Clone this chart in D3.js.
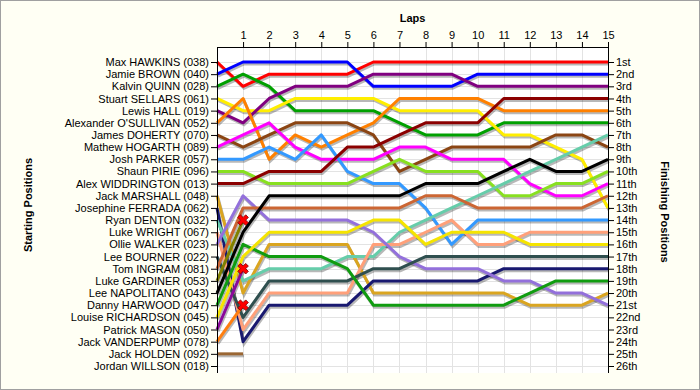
<!DOCTYPE html>
<html>
<head>
<meta charset="utf-8">
<script src="https://cdn.jsdelivr.net/npm/d3@7"></script>
<style>
  body { margin: 0; background: #fffff4; }
  svg { display: block; }
  text { font-family: "Liberation Sans", Arial, sans-serif; }
</style>
</head>
<body>
<div id="chart"></div>
<script>
// drivers in starting order
var drivers = [
  "Max HAWKINS (038)", "Jamie BROWN (040)", "Kalvin QUINN (028)", "Stuart SELLARS (061)",
  "Lewis HALL (019)", "Alexander O'SULLIVAN (052)", "James DOHERTY (070)", "Mathew HOGARTH (089)",
  "Josh PARKER (057)", "Shaun PIRIE (096)", "Alex WIDDRINGTON (013)", "Jack MARSHALL (048)",
  "Josephine FERRADA (062)", "Ryan DENTON (032)", "Luke WRIGHT (067)", "Ollie WALKER (023)",
  "Lee BOURNER (022)", "Tom INGRAM (081)", "Luke GARDINER (053)", "Lee NAPOLITANO (043)",
  "Danny HARWOOD (047)", "Louise RICHARDSON (045)", "Patrick MASON (050)", "Jack VANDERPUMP (078)",
  "Jack HOLDEN (092)", "Jordan WILLSON (018)"
];

var lapLabels = d3.range(1, 16);

var finishLabels = ["1st","2nd","3rd","4th","5th","6th","7th","8th","9th","10th","11th","12th","13th",
  "14th","15th","16th","17th","18th","19th","20th","21st","22nd","23rd","24th","25th","26th"];

// position at start (lap 0) and after each lap, one row per driver
var positions = [
  [1,3,2,2,2,2,1,1,1,1,1,1,1,1,1,1],
  [2,1,1,1,1,1,3,3,3,3,2,2,2,2,2,2],
  [3,2,3,5,5,5,5,6,7,7,7,6,6,6,6,6],
  [4,5,5,4,4,4,4,5,5,5,5,7,7,8,9,13],
  [5,6,4,3,3,3,2,2,2,2,3,3,3,3,3,3],
  [6,4,9,7,8,7,6,4,4,4,4,5,5,5,5,5],
  [7,8,7,6,6,6,7,10,9,8,8,8,8,7,7,8],
  [8,7,6,8,9,9,9,8,8,9,9,9,11,12,12,11],
  [9,9,8,9,7,10,11,11,13,16,14,14,14,14,14,14],
  [10,10,11,11,11,11,10,9,10,10,10,12,12,11,11,10],
  [11,11,10,10,10,8,8,7,6,6,6,4,4,4,4,4],
  [12,20,16,16,16,16,20,20,20,20,20,20,21,21,21,20],
  [13,24,21,21,21,21,19,19,19,19,19,18,18,18,18,18],
  [14,19,18,18,18,17,17,15,14,13,12,11,10,9,8,7],
  [15,23,20,20,20,20,16,16,15,14,16,16,15,15,15,15],
  [16,12,14,14,14,14,15,17,18,18,18,19,19,20,20,21],
  [17,22,19,19,19,19,18,18,17,17,17,17,17,17,17,17],
  [18,13,13,13,13,13,13,13,12,12,13,13,13,13,13,12],
  [19,14],
  [20,15,12,12,12,12,12,12,11,11,11,10,9,10,10,9],
  [21,16,17,17,17,18,21,21,21,21,21,21,20,19,19,19],
  [22,17,15,15,15,15,14,14,16,15,15,15,16,16,16,16],
  [23,18],
  [24,21],
  [25,25],
  []
];

// drivers retired with a marker
var retired = [18, 22, 23];

var palette = ["#ff0000","#0000ff","#00a000","#ffee00","#800080","#ff8000","#8b4513","#ff00ff",
  "#3399ff","#88e020","#8b0000","#daa520","#191970","#66cdaa","#ffa07a","#9370db",
  "#2f4f4f","#cc6633","#808000","#000000","#109c10","#f5e400","#8a0a9a","#ff7f10",
  "#9a6633","#888888"];

var svgWidth = 700, svgHeight = 390;
var plotLeft = 217, plotRight = 608, plotTop = 47, plotBottom = 373;

var svg = d3.select("#chart").append("svg")
  .attr("width", svgWidth)
  .attr("height", svgHeight);

svg.append("rect")
  .attr("x", 0.5).attr("y", 0.5)
  .attr("width", svgWidth - 1).attr("height", svgHeight - 1)
  .attr("fill", "#fffff4").attr("stroke", "#a0a0a0");

var x = d3.scaleLinear().domain([0, 15]).range([plotLeft, plotRight]);
var y = d3.scaleLinear().domain([1, 26]).range([62, 366]);

// plot area + grid
svg.append("rect")
  .attr("x", plotLeft).attr("y", plotTop)
  .attr("width", plotRight - plotLeft).attr("height", plotBottom - plotTop)
  .attr("fill", "#ffffff");

svg.append("g").selectAll("line")
  .data(lapLabels)
  .join("line")
  .attr("x1", d => Math.round(x(d)) + 0.5).attr("x2", d => Math.round(x(d)) + 0.5)
  .attr("y1", plotTop).attr("y2", plotBottom)
  .attr("stroke", "#e3e3e3");

svg.append("g").selectAll("line")
  .data(d3.range(1, 27))
  .join("line")
  .attr("x1", plotLeft).attr("x2", plotRight)
  .attr("y1", d => Math.round(y(d)) + 0.5).attr("y2", d => Math.round(y(d)) + 0.5)
  .attr("stroke", "#e3e3e3");

// lines
var line = d3.line()
  .x((d, i) => x(i))
  .y(d => y(d));

var drawn = positions.map((p, i) => ({ p: p, i: i })).filter(d => d.p.length > 1);

svg.append("g")
  .attr("transform", "translate(1,2)")
  .selectAll("path")
  .data(drawn)
  .join("path")
  .attr("d", d => line(d.p))
  .attr("fill", "none")
  .attr("stroke", "rgba(0,0,0,0.28)")
  .attr("stroke-width", 3);

svg.append("g")
  .selectAll("path")
  .data(drawn)
  .join("path")
  .attr("d", d => line(d.p))
  .attr("fill", "none")
  .attr("stroke", d => palette[d.i])
  .attr("stroke-width", 3)
  .attr("stroke-linejoin", "round");

// retirement markers
svg.append("g")
  .selectAll("path")
  .data(retired)
  .join("path")
  .attr("transform", d => {
    var p = positions[d];
    return `translate(${x(p.length - 1)},${y(p[p.length - 1])}) rotate(45)`;
  })
  .attr("d", d3.symbol().type(d3.symbolCross).size(70))
  .attr("fill", "#ff0000")
  .attr("stroke", "#800000")
  .attr("stroke-width", 0.8);

// axes
var yLeft = d3.axisLeft(y)
  .tickValues(d3.range(1, 27))
  .tickFormat(d => drivers[d - 1])
  .tickSize(6).tickPadding(2);

var yRight = d3.axisRight(y)
  .tickValues(d3.range(1, 27))
  .tickFormat(d => finishLabels[d - 1])
  .tickSize(6).tickPadding(2);

var xTop = d3.axisTop(x)
  .tickValues(lapLabels)
  .tickSize(5).tickPadding(3);

function styleAxis(g) {
  g.select(".domain").remove();
  g.selectAll("line").attr("stroke", "#000");
  g.selectAll("text")
    .attr("fill", "#000")
    .style("font-size", "11px")
    .style("font-family", "'Liberation Sans', Arial, sans-serif");
}

svg.append("g").attr("transform", `translate(${plotLeft},0)`).call(yLeft).call(styleAxis);
svg.append("g").attr("transform", `translate(${plotRight},0)`).call(yRight).call(styleAxis);
svg.append("g").attr("transform", `translate(0,${plotTop})`).call(xTop).call(styleAxis);

svg.append("line").attr("x1", plotLeft + 0.5).attr("x2", plotLeft + 0.5)
  .attr("y1", plotTop).attr("y2", plotBottom).attr("stroke", "#000");
svg.append("line").attr("x1", plotRight + 0.5).attr("x2", plotRight + 0.5)
  .attr("y1", plotTop).attr("y2", plotBottom).attr("stroke", "#000");
svg.append("line").attr("x1", plotLeft).attr("x2", plotRight + 1)
  .attr("y1", plotTop + 0.5).attr("y2", plotTop + 0.5).attr("stroke", "#000");

// titles
svg.append("text")
  .attr("x", (plotLeft + plotRight) / 2).attr("y", 22)
  .attr("text-anchor", "middle")
  .style("font-size", "11px").style("font-weight", "bold")
  .text("Laps");

svg.append("text")
  .attr("transform", "translate(32,205) rotate(-90)")
  .attr("text-anchor", "middle")
  .style("font-size", "11px").style("font-weight", "bold")
  .text("Starting Positions");

svg.append("text")
  .attr("transform", "translate(661,212) rotate(90)")
  .attr("text-anchor", "middle")
  .style("font-size", "11px").style("font-weight", "bold")
  .text("Finishing Positions");
</script>
</body>
</html>
